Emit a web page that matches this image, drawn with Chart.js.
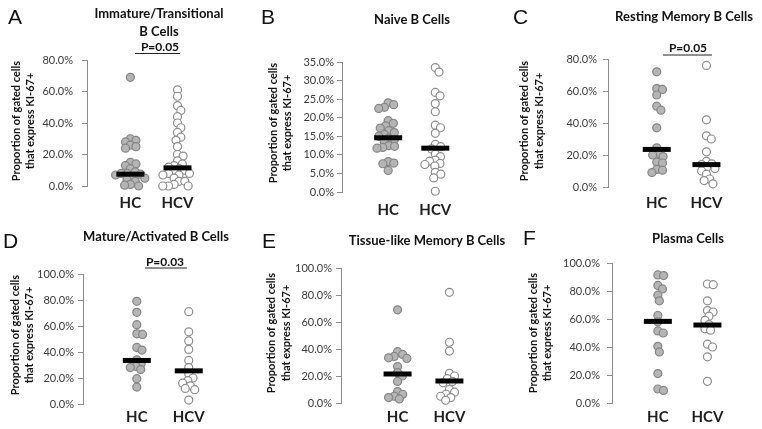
<!DOCTYPE html>
<html>
<head>
<meta charset="utf-8">
<script src="https://cdn.jsdelivr.net/npm/chart.js@4.4.0/dist/chart.umd.min.js"></script>
<style>
  body { margin: 0; background: #fff; }
  #wrap { position: relative; width: 762px; height: 429px; overflow: hidden; }
  #wrap canvas { position: absolute; }
</style>
</head>
<body>
<div id="wrap"></div>
<script>
const groups = ["HC", "HCV"];

// A - Immature/Transitional B cells (% Ki-67+)
const immHC = [69, 30, 29, 28, 26, 25, 24, 15, 14, 13, 11, 9, 8, 8, 7.5, 7, 6, 5, 4, 3, 1, 0.5, 0];
const immHCV = [61, 57, 51, 48, 44, 40, 37, 34, 31, 29, 25, 20, 19, 16, 14, 13, 12, 11, 10, 9, 8, 8, 7, 7, 5, 3, 3, 1, 0, 0, 0];
const immMed = [7.5, 11.5];
const immTicks = [0, 20, 40, 60, 80];

// B - Naive B cells
const naiveHC = [24, 23.5, 22.8, 22.5, 19.2, 18.5, 17.8, 17.2, 16.5, 16, 15.5, 15, 14.5, 14.2, 13.5, 12.5, 12.3, 12, 11.8, 8.2, 7.8, 7.6, 5.8];
const naiveHCV = [33.5, 32.3, 26.8, 25.9, 23.8, 21.6, 18.0, 17.3, 15.8, 12.8, 12.2, 11.6, 10.2, 9.5, 8.6, 8.3, 7.7, 7.4, 7.0, 5.3, 4.8, 3.8, 0.2];
const naiveMed = [14.6, 11.8];
const naiveTicks = [0, 5, 10, 15, 20, 25, 30, 35];

// C - Resting memory B cells
const restHC = [72, 61.5, 61, 57.5, 50.5, 48, 37, 24.5, 21, 20, 19, 15.5, 15, 11, 10.5, 9];
const restHCV = [76, 42, 32, 30, 22, 16, 14.5, 14, 12, 11.5, 10, 8, 5, 4, 2];
const restMed = [23.5, 14];
const restTicks = [0, 10, 20, 30, 40, 50, 60, 70, 80];

// D - Mature/Activated B cells
const matHC = [79, 70.5, 61, 54, 53.5, 43.5, 41.5, 34, 31, 29, 28, 26.5, 19.5, 13];
const matHCV = [71, 55.5, 48.5, 42, 33.5, 28, 23, 20, 18, 16, 14, 12, 11, 3];
const matMed = [33.5, 25.5];
const matTicks = [0, 20, 40, 60, 80, 100];

// E - Tissue-like memory B cells
const tissueHC = [69, 38, 36, 34.5, 33.5, 33, 27, 22.5, 20, 16, 8.5, 6.5, 5, 4, 3];
const tissueHCV = [82, 45, 38.5, 22, 20, 18, 16, 15, 10, 8, 6.5, 5, 4, 2];
const tissueMed = [21.5, 16.3];
const tissueTicks = [0, 20, 40, 60, 80, 100];

// F - Plasma cells
const plasmaHC = [91.5, 91, 84, 81.5, 77, 73, 62.5, 58, 51.5, 50, 40.5, 36.5, 21, 10, 9];
const plasmaHCV = [85, 84.5, 73, 66, 65, 62, 59, 56, 53, 52, 42, 40, 33, 15.5];
const plasmaMed = [58.3, 55.7];
const plasmaTicks = [0, 20, 40, 60, 80, 100];

// panel layout (page pixels); canvases run a bit past their panel so the HC/HCV labels fit
const panels = [
  { letter: "A", title: ["Immature/Transitional", "B Cells"], hc: immHC, hcv: immHCV, med: immMed, ticks: immTicks, p: "P=0.05",
    box: [0, 0, 254, 228], axisX: 87, topY: 60, botY: 186, hcX: 133, hcvX: 183, tickPad: 9, xPad: 8,
    letterAt: [8, 23.5], titleX: 159, titleY: [14, 32], pAt: [160, 47.5], pLine: [135, 180, 53.5], yTitleX: [16, 30], yTitleY: 121 },
  { letter: "B", title: ["Naive B Cells"], hc: naiveHC, hcv: naiveHCV, med: naiveMed, ticks: naiveTicks, p: null,
    box: [254, 0, 254, 228], axisX: 342, topY: 62, botY: 192, hcX: 391, hcvX: 441, tickPad: 3, xPad: 9,
    letterAt: [261, 24], titleX: 412, titleY: [20], yTitleX: [273, 287], yTitleY: 123 },
  { letter: "C", title: ["Resting Memory B Cells"], hc: restHC, hcv: restHCV, med: restMed, ticks: restTicks, p: "P=0.05",
    box: [508, 0, 254, 228], axisX: 608, topY: 59, botY: 187, hcX: 660, hcvX: 713, tickPad: 6, xPad: 7,
    letterAt: [513, 23.5], titleX: 684, titleY: [17], pAt: [688, 48.5], pLine: [663, 712, 55], yTitleX: [524, 539], yTitleY: 121 },
  { letter: "D", title: ["Mature/Activated B Cells"], hc: matHC, hcv: matHCV, med: matMed, ticks: matTicks, p: "P=0.03",
    box: [0, 215, 254, 226], axisX: 83, topY: 274, botY: 404, hcX: 140, hcvX: 195, tickPad: 4, xPad: 4,
    letterAt: [3, 248], titleX: 156, titleY: [237], pAt: [165, 262.5], pLine: [145, 187, 268], yTitleX: [15, 29], yTitleY: 335 },
  { letter: "E", title: ["Tissue-like Memory B Cells"], hc: tissueHC, hcv: tissueHCV, med: tissueMed, ticks: tissueTicks, p: null,
    box: [254, 215, 254, 226], axisX: 341, topY: 268, botY: 403, hcX: 401, hcvX: 456, tickPad: 4, xPad: 5,
    letterAt: [262, 248], titleX: 427, titleY: [241], yTitleX: [271, 286], yTitleY: 333 },
  { letter: "F", title: ["Plasma Cells"], hc: plasmaHC, hcv: plasmaHCV, med: plasmaMed, ticks: plasmaTicks, p: null,
    box: [508, 215, 254, 226], axisX: 612, topY: 263, botY: 403, hcX: 661, hcvX: 714, tickPad: 7, xPad: 5,
    letterAt: [523, 245], titleX: 688, titleY: [239], yTitleX: [533, 547], yTitleY: 333 }
];

const Y_W = 60, X_H = 30, PAD_R = 10, DOT = 5.8;

// letters, titles, p-values and y titles
const panelText = {
  id: "panelText",
  afterDraw(chart, args, o) {
    const ctx = chart.ctx;
    const ox = o.box[0], oy = o.box[1];
    ctx.save();
    ctx.fillStyle = "#111";
    ctx.font = '21px "Liberation Sans"';
    ctx.textAlign = "left";
    ctx.textBaseline = "alphabetic";
    ctx.fillText(o.letter, o.letterAt[0] - ox, o.letterAt[1] - oy);

    ctx.font = "bold 13px Lato";
    ctx.textAlign = "center";
    ctx.textBaseline = "middle";
    o.title.forEach((t, i) => ctx.fillText(t, o.titleX - ox, o.titleY[i] - oy));

    if (o.p) {
      ctx.font = "bold 12px Lato";
      ctx.fillText(o.p, o.pAt[0] - ox, o.pAt[1] - oy);
      ctx.strokeStyle = "#222";
      ctx.lineWidth = 1.2;
      ctx.beginPath();
      ctx.moveTo(o.pLine[0] - ox, o.pLine[2] - oy);
      ctx.lineTo(o.pLine[1] - ox, o.pLine[2] - oy);
      ctx.stroke();
    }

    ctx.font = "bold 11px Lato";
    ["Proportion of gated cells", "that express KI-67+"].forEach((t, i) => {
      ctx.save();
      ctx.translate(o.yTitleX[i] - ox, o.yTitleY - oy);
      ctx.rotate(-Math.PI / 2);
      ctx.fillText(t, 0, 0);
      ctx.restore();
    });
    ctx.restore();
  }
};

// spread points sideways like a beeswarm
function swarm(chart) {
  const xs = chart.scales.x, ys = chart.scales.y;
  const unit = xs.getPixelForValue(2) - xs.getPixelForValue(1);
  chart.data.datasets.forEach(ds => {
    if (ds.center == null) return;
    const placed = [];
    const order = ds.data.map((p, i) => i).sort((a, b) => ds.data[b].y - ds.data[a].y);
    order.forEach(i => {
      const p = ds.data[i];
      const py = ys.getPixelForValue(p.y);
      const cands = [0];
      placed.forEach(q => {
        const dy = py - q.py;
        if (Math.abs(dy) < DOT) {
          const dx = Math.sqrt(DOT * DOT - dy * dy);
          cands.push(q.dx + dx, q.dx - dx);
        }
      });
      cands.sort((a, b) => Math.abs(a) - Math.abs(b));
      const dx = cands.find(c => placed.every(q => (c - q.dx) ** 2 + (py - q.py) ** 2 >= DOT * DOT - 0.01));
      placed.push({ dx: dx, py: py });
      p.x = ds.center + dx / unit;
    });
  });
  chart.update("none");
}

const wrap = document.getElementById("wrap");

panels.forEach(pn => {
  const [bx, by, bw, bh] = pn.box;
  const cv = document.createElement("canvas");
  cv.width = bw; cv.height = bh;
  cv.style.left = bx + "px"; cv.style.top = by + "px";
  cv.style.width = bw + "px"; cv.style.height = bh + "px";
  wrap.appendChild(cv);

  const axisL = pn.axisX - bx, right = bw - PAD_R;
  const unit = pn.hcvX - pn.hcX;
  const xMin = 1 - (pn.hcX - pn.axisX) / unit;
  const xMax = 2 + (right - (pn.hcvX - bx)) / unit;
  const yMax = pn.ticks[pn.ticks.length - 1];

  const chart = new Chart(cv, {
    type: "scatter",
    data: {
      datasets: [
        {
          label: "median",
          data: pn.med.map((v, i) => ({ x: i + 1, y: v })),
          pointStyle: "line",
          pointRadius: 14,
          borderWidth: 5,
          borderColor: "#000",
          clip: false
        },
        {
          label: "HC",
          center: 1,
          data: pn.hc.map(v => ({ x: 1, y: v })),
          pointRadius: 4,
          borderWidth: 1.2,
          backgroundColor: "#b5b5b5",
          borderColor: "#858585",
          clip: false
        },
        {
          label: "HCV",
          center: 2,
          data: pn.hcv.map(v => ({ x: 2, y: v })),
          pointRadius: 4,
          borderWidth: 1.2,
          backgroundColor: "#ffffff",
          borderColor: "#8c8c8c",
          clip: false
        }
      ]
    },
    options: {
      responsive: false,
      animation: false,
      devicePixelRatio: 1,
      events: [],
      layout: {
        padding: { left: axisL - Y_W, top: pn.topY - by, right: PAD_R, bottom: bh - (pn.botY - by) - X_H }
      },
      plugins: {
        legend: { display: false },
        tooltip: { enabled: false },
        panelText: pn
      },
      scales: {
        x: {
          type: "linear",
          min: xMin,
          max: xMax,
          afterBuildTicks: s => { s.ticks = [1, 2].map(v => ({ value: v })); },
          afterFit: s => { s.height = X_H; },
          ticks: {
            callback: v => groups[Math.round(v) - 1],
            font: { family: "Lato", size: 15, weight: "bold" },
            color: "#1e1e1e",
            padding: pn.xPad,
            autoSkip: false,
            maxRotation: 0
          },
          grid: { display: false, drawTicks: false },
          border: { display: false }
        },
        y: {
          min: 0,
          max: yMax,
          afterBuildTicks: s => { s.ticks = pn.ticks.map(v => ({ value: v })); },
          afterFit: s => { s.width = Y_W; },
          ticks: {
            callback: v => v.toFixed(1) + "%",
            font: { family: "Lato", size: 11 },
            color: "#3a3a3a",
            padding: pn.tickPad
          },
          grid: { drawOnChartArea: false, drawTicks: true, tickLength: 5, color: "#8c8c8c" },
          border: { display: true, color: "#8c8c8c", width: 1 }
        }
      }
    },
    plugins: [panelText]
  });
  swarm(chart);
});
</script>
</body>
</html>
